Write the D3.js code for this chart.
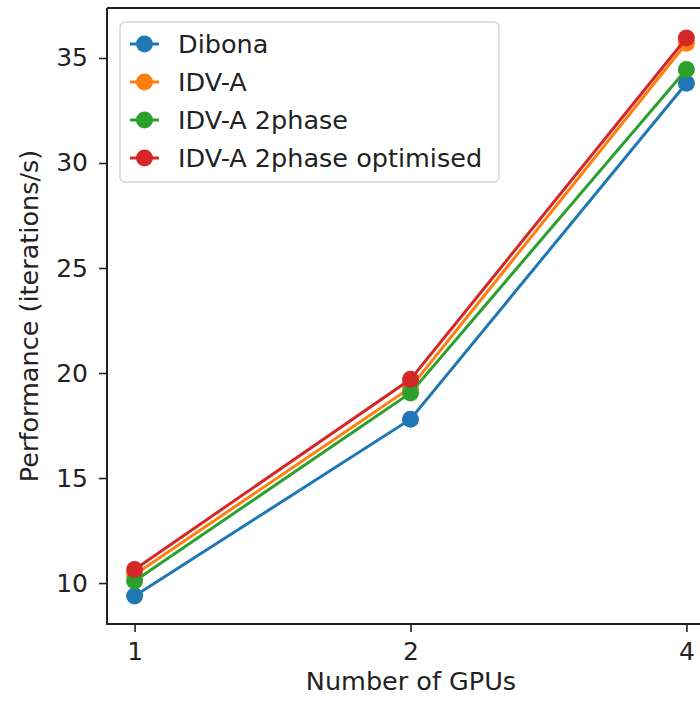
<!DOCTYPE html>
<html>
<head>
<meta charset="utf-8">
<script src="https://cdn.jsdelivr.net/npm/d3@7"></script>
<style>
  body { margin: 0; background: #fff; }
  svg { font-family: "DejaVu Sans", sans-serif; }
</style>
</head>
<body>
<svg id="chart" width="700" height="701"></svg>
<script>
const gpus = ['1', '2', '4']
const seriesNames = ['Dibona', 'IDV-A', 'IDV-A 2phase', 'IDV-A 2phase optimised']
const dibona = [9.38, 17.8, 33.8]
const idva = [10.4, 19.3, 35.7]
const idva2phase = [10.1, 19.05, 34.45]
const idva2phaseOpt = [10.65, 19.7, 35.95]
const yTicks = [10, 15, 20, 25, 30, 35]
const colors = ['#1f77b4', '#ff7f0e', '#2ca02c', '#d62728']

const series = [dibona, idva, idva2phase, idva2phaseOpt].map((values, i) => ({
    name: seriesNames[i],
    color: colors[i],
    points: values.map((v, j) => ({ x: gpus[j], y: v }))
}))

const plotLeft = 107
const plotRight = 714
const plotTop = 8
const plotBottom = 624
const fontSize = 25.5

const svg = d3.select('#chart')

// categorical x with matplotlib style 5% margins
const x = d3.scalePoint()
    .domain(gpus)
    .range([plotLeft + (plotRight - plotLeft) * 0.1 / 2.2, plotRight - (plotRight - plotLeft) * 0.1 / 2.2])

const y = d3.scaleLinear()
    .domain([8.05, 37.38])
    .range([plotBottom, plotTop])

const xAxis = svg.append('g')
    .attr('transform', `translate(0, ${plotBottom})`)
    .call(d3.axisBottom(x).tickSize(8).tickPadding(10))
const yAxis = svg.append('g')
    .attr('transform', `translate(${plotLeft}, 0)`)
    .call(d3.axisLeft(y).tickValues(yTicks).tickSize(8).tickPadding(11))

;[xAxis, yAxis].forEach(ax => {
    ax.select('.domain').remove()
    ax.selectAll('line').attr('stroke', '#222').attr('stroke-width', 1.6)
    ax.selectAll('text').attr('font-size', 25).attr('fill', '#222')
        .style('font-family', '"DejaVu Sans", sans-serif')
})

// spines (right one is cut off by the crop)
svg.append('path')
    .attr('d', `M${plotLeft},${plotTop}H${plotRight}M${plotLeft},${plotTop}V${plotBottom}H${plotRight}`)
    .attr('fill', 'none')
    .attr('stroke', '#222')
    .attr('stroke-width', 2)

const line = d3.line()
    .x(d => x(d.x))
    .y(d => y(d.y))

const gSeries = svg.append('g').selectAll('g.series')
    .data(series)
    .enter()
    .append('g')
    .attr('class', 'series')

gSeries.append('path')
    .attr('d', d => line(d.points))
    .attr('fill', 'none')
    .attr('stroke', d => d.color)
    .attr('stroke-width', 3)

gSeries.selectAll('circle')
    .data(d => d.points.map(p => ({ ...p, color: d.color })))
    .enter()
    .append('circle')
    .attr('cx', d => x(d.x))
    .attr('cy', d => y(d.y))
    .attr('r', 8.5)
    .attr('fill', d => d.color)

// legend
const legend = svg.append('g')
legend.append('rect')
    .attr('x', 120).attr('y', 22)
    .attr('width', 379).attr('height', 160)
    .attr('rx', 5)
    .attr('fill', '#fff')
    .attr('fill-opacity', 0.8)
    .attr('stroke', '#d6d6d6')
    .attr('stroke-width', 1.5)

const items = legend.selectAll('g.item')
    .data(series)
    .enter()
    .append('g')
    .attr('class', 'item')
    .attr('transform', (d, i) => `translate(0, ${44 + i * 38})`)

items.append('line')
    .attr('x1', 130).attr('x2', 159)
    .attr('stroke', d => d.color)
    .attr('stroke-width', 3)
items.append('circle')
    .attr('cx', 144.5).attr('r', 8.5)
    .attr('fill', d => d.color)
items.append('text')
    .attr('x', 178)
    .attr('dy', '0.36em')
    .attr('font-size', fontSize)
    .attr('fill', '#222')
    .text(d => d.name)

// axis labels
svg.append('text')
    .attr('x', 411).attr('y', 690)
    .attr('text-anchor', 'middle')
    .attr('font-size', fontSize)
    .attr('fill', '#222')
    .text('Number of GPUs')

svg.append('text')
    .attr('transform', 'translate(38, 316) rotate(-90)')
    .attr('text-anchor', 'middle')
    .attr('font-size', fontSize)
    .attr('fill', '#222')
    .text('Performance (iterations/s)')
</script>
</body>
</html>
